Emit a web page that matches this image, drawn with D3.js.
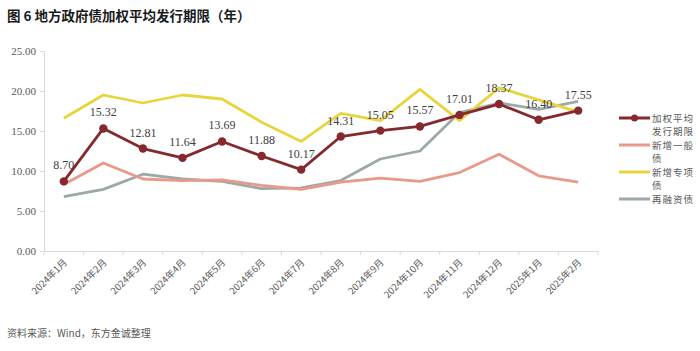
<!DOCTYPE html>
<html>
<head>
<meta charset="utf-8">
<script src="https://cdn.jsdelivr.net/npm/d3@7"></script>
<style>
html,body{margin:0;padding:0;background:#fff;}
svg{display:block;}
</style>
</head>
<body>
<svg id="chart" width="700" height="351"></svg>
<script>
const categories = ["2024年1月","2024年2月","2024年3月","2024年4月","2024年5月","2024年6月","2024年7月","2024年8月","2024年9月","2024年10月","2024年11月","2024年12月","2025年1月","2025年2月"];
const weightedAvg = [8.70,15.32,12.81,11.64,13.69,11.88,10.17,14.31,15.05,15.57,17.01,18.37,16.40,17.55];
const newGeneral = [8.3,11.0,9.0,8.8,8.9,8.2,7.7,8.6,9.1,8.7,9.8,12.1,9.4,8.6];
const newSpecial = [16.6,19.5,18.5,19.5,19.0,16.1,13.7,17.2,16.3,20.2,16.3,20.4,18.9,17.4];
const refinancing = [6.8,7.7,9.6,9.0,8.7,7.8,7.9,8.8,11.5,12.5,17.3,18.5,17.7,18.7];
const yTicks = [0,5,10,15,20,25];
const seriesNames = ["加权平均发行期限","新增一般债","新增专项债","再融资债"];
const legendLabels = [["加权平均","发行期限"],["新增一般","债"],["新增专项","债"],["再融资债"]];

const colors = ["#85292F","#E8998A","#E8D43C","#9BAAA8"];

const svg = d3.select("#chart");
const x = d3.scaleBand().domain(categories).range([44, 598]);
const y = d3.scaleLinear().domain([0,25]).range([251, 51]);

// Title
svg.append("text").attr("x",7).attr("y",21)
  .attr("font-family","'Noto Sans CJK SC', sans-serif").attr("font-weight","bold")
  .attr("font-size",13.5).attr("fill","#1a1a1a").text("图 6  地方政府债加权平均发行期限（年）");

// Y axis
const yAxis = d3.axisLeft(y).tickValues(yTicks).tickFormat(d3.format(".2f")).tickSize(4).tickSizeOuter(0);
const gy = svg.append("g").attr("transform","translate(44,0)").call(yAxis);
gy.select(".domain").attr("stroke","#d9d9d9");
gy.selectAll(".tick line").attr("stroke","#d9d9d9");
gy.selectAll(".tick text").attr("font-family","'Liberation Serif', serif").attr("font-size",11).attr("fill","#595959").attr("x",-8);

// X axis
const gx = svg.append("g").attr("transform","translate(0,251)").call(d3.axisBottom(x).tickSize(0).tickSizeOuter(0));
gx.select(".domain").attr("stroke","#d9d9d9");
gx.selectAll(".tick line").remove();
const bounds = d3.range(categories.length+1).map(i => 44 + i*x.step());
gx.selectAll("line.b").data(bounds).enter().append("line").attr("class","b")
  .attr("x1",d=>d).attr("x2",d=>d).attr("y1",0).attr("y2",4).attr("stroke","#d9d9d9");
gx.selectAll(".tick text")
  .attr("font-family","'Noto Sans CJK SC', sans-serif").attr("font-size",9.5).attr("fill","#595959")
  .attr("text-anchor","end").attr("dy",0).attr("y",0)
  .attr("transform","translate(4,12) rotate(-45)");

const cx = d => x(d) + x.bandwidth()/2;
const allSeries = [weightedAvg,newGeneral,newSpecial,refinancing];
const line = d3.line().x((d,i)=>cx(categories[i])).y(d=>y(d));

[3,1,2,0].forEach(si=>{
  svg.append("path").datum(allSeries[si]).attr("d",line)
    .attr("fill","none").attr("stroke",colors[si])
    .attr("stroke-width",2.8).attr("stroke-linejoin","round");
});
svg.selectAll("circle.pt").data(weightedAvg).enter().append("circle").attr("class","pt")
  .attr("cx",(d,i)=>cx(categories[i])).attr("cy",d=>y(d)).attr("r",4.2).attr("fill",colors[0]);
svg.selectAll("text.lbl").data(weightedAvg).enter().append("text").attr("class","lbl")
  .attr("x",(d,i)=>cx(categories[i])).attr("y",d=>y(d)-12)
  .attr("text-anchor","middle").attr("font-family","'Liberation Serif', serif")
  .attr("font-size",12).attr("fill","#404040").text(d=>d.toFixed(2));

// Legend
const legY = [118,145,172,199];
legendLabels.forEach((lab,i)=>{
  const g = svg.append("g");
  g.append("line").attr("x1",619).attr("x2",650).attr("y1",legY[i]).attr("y2",legY[i])
    .attr("stroke",colors[i]).attr("stroke-width",3);
  if(i===0) g.append("circle").attr("cx",634.5).attr("cy",legY[i]).attr("r",3.5).attr("fill",colors[0]);
  lab.forEach((t,j)=>{
    g.append("text").attr("x",652).attr("y",legY[i]+4+j*13)
      .attr("font-family","'Noto Sans CJK SC', sans-serif").attr("font-size",9.5)
      .attr("fill","#595959").attr("letter-spacing",1).text(t);
  });
});

// Source
svg.append("text").attr("x",7).attr("y",337)
  .attr("font-family","'Noto Sans CJK SC', sans-serif").attr("font-size",10)
  .attr("fill","#595959").text("资料来源：Wind，东方金诚整理");
</script>
</body>
</html>
